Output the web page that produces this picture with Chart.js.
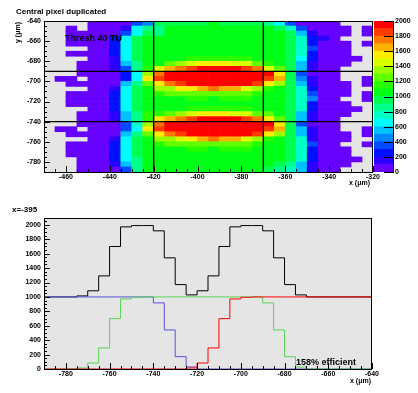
<!DOCTYPE html>
<html>
<head>
<meta charset="utf-8">
<script src="https://cdn.jsdelivr.net/npm/chart.js@4.4.0/dist/chart.umd.min.js"></script>
<style>
  body { margin: 0; background: #fff; }
  #page { position: relative; width: 418px; height: 393px; overflow: hidden;
          font-family: "Liberation Sans", Arial, sans-serif; font-weight: bold; color: #000; }
  #page canvas { position: absolute; }
  .lbl { position: absolute; white-space: nowrap; line-height: 1; }
</style>
</head>
<body>
<div id="page">
  <canvas id="mapChart" width="418" height="200" style="left:0;top:0"></canvas>
  <canvas id="paletteChart" width="58" height="200" style="left:360px;top:0"></canvas>
  <canvas id="sliceChart" width="418" height="193" style="left:0;top:200px"></canvas>

  <div class="lbl" style="left:16px;top:8px;font-size:8px">Central pixel duplicated</div>
  <div class="lbl" style="left:65px;top:34px;font-size:9px">Thresh 40 TU</div>
  <div class="lbl" style="left:14px;top:43px;font-size:7px;transform:rotate(-90deg);transform-origin:0 0">y (μm)</div>
  <div class="lbl" style="left:349px;top:179px;font-size:7px">x (μm)</div>
  <div class="lbl" style="left:12px;top:206px;font-size:8px">x=-395</div>
  <div class="lbl" style="left:296px;top:358px;font-size:9px">158% efficient</div>
  <div class="lbl" style="left:350px;top:377px;font-size:7px">x (μm)</div>
</div>

<script>
// ---- 2D map: 5 um bins, rows listed from top (y = -640) to bottom (y = -790)
var binWidth = 5;
var xBinLow = [-470,-465,-460,-455,-450,-445,-440,-435,-430,-425,-420,-415,-410,-405,-400,
               -395,-390,-385,-380,-375,-370,-365,-360,-355,-350,-345,-340,-335,-330,-325];
var yBinLow = [-645,-650,-655,-660,-665,-670,-675,-680,-685,-690,-695,-700,-705,-710,-715,
               -720,-725,-730,-735,-740,-745,-750,-755,-760,-765,-770,-775,-780,-785,-790];
var counts = [
  [0,0,0,0,50,50,50,50,350,450,950,950,950,950,950,1050,950,950,950,950,850,650,350,50,50,50,50,0,0,0],
  [0,0,50,0,50,50,50,150,650,850,850,1050,1050,1050,1050,1050,1050,1050,1050,1050,1050,950,750,350,50,50,50,50,0,50],
  [0,0,50,50,50,50,50,350,650,950,850,1050,1050,1050,1050,1050,1050,1050,1050,1050,1050,1050,950,550,150,50,50,50,0,50],
  [0,0,50,50,50,50,250,650,950,1050,1050,1050,1050,1050,1050,1050,1050,1050,1050,1050,1050,1050,950,750,250,150,50,0,0,0],
  [0,0,50,50,50,50,250,650,950,1050,1050,1050,1050,1050,1050,1050,1050,1050,1050,1050,1050,1050,950,750,250,50,50,50,0,50],
  [0,0,0,0,50,50,250,650,950,1050,1050,1050,1050,1050,1050,1050,1050,1050,1050,1050,1050,1050,950,750,350,50,50,50,0,0],
  [0,0,50,50,50,50,250,650,950,1050,1050,1050,1050,1050,1050,1050,1050,1050,1050,1050,1050,1050,950,750,250,50,50,50,0,0],
  [0,0,0,0,50,50,150,650,950,1050,1050,1050,1050,1150,1150,1150,1150,1150,1150,1050,1050,1050,950,650,250,50,50,50,50,0],
  [0,0,0,50,50,50,150,550,850,1050,1050,1250,1350,1450,1550,1550,1550,1450,1450,1250,1150,1050,950,550,150,50,50,50,0,0],
  [0,0,0,50,50,50,150,350,850,1150,1450,1650,1750,1850,1950,1950,1950,1950,1850,1750,1450,1250,950,550,150,50,50,0,0,0],
  [0,0,0,50,50,50,50,250,650,1350,1750,1950,1950,1950,1950,1950,1950,1950,1950,1950,1950,1550,950,350,50,50,50,0,0,0],
  [0,50,50,0,50,50,50,250,650,1550,1850,1950,1950,1950,1950,1950,1950,1950,1950,1950,1850,1650,950,450,150,50,50,0,0,50],
  [0,0,50,50,50,50,50,550,850,1250,1550,1750,1850,1950,1950,1950,1950,1950,1950,1850,1550,1350,950,550,150,50,50,50,0,50],
  [0,0,0,0,50,50,150,650,950,1050,1350,1350,1550,1550,1650,1750,1650,1650,1450,1350,1150,1050,950,750,250,50,50,50,0,0],
  [0,0,50,50,50,50,250,650,950,1050,1150,1250,1250,1250,1250,1250,1250,1250,1250,1150,1050,1050,950,750,350,50,50,50,0,50],
  [0,0,50,50,50,50,250,650,950,1050,1050,1050,1050,1150,1150,1050,1150,1150,1150,1050,1050,1050,950,750,450,50,50,0,0,50],
  [0,0,50,50,50,50,250,650,950,1050,1050,1050,1050,1050,1050,1050,1050,1050,1050,1050,1050,1050,950,750,250,50,50,50,0,0],
  [0,0,0,0,50,50,250,650,950,1050,1050,1050,1050,1150,1150,1150,1150,1150,1150,1050,1050,1050,950,750,250,50,50,50,50,0],
  [0,0,0,50,50,50,150,550,850,1150,1150,1250,1350,1450,1550,1550,1550,1450,1450,1250,1250,1050,950,550,150,50,50,50,0,0],
  [0,0,0,50,50,50,150,550,850,1150,1550,1650,1750,1850,1950,1950,1950,1950,1850,1750,1550,1250,950,550,150,50,50,0,0,0],
  [0,0,0,50,50,50,50,350,750,1350,1750,1950,1950,1950,1950,1950,1950,1950,1950,1950,1950,1550,950,350,50,50,50,0,0,0],
  [0,50,50,0,50,50,50,350,650,1550,1850,1950,1950,1950,1950,1950,1950,1950,1950,1950,1850,1650,950,550,150,50,50,0,0,50],
  [0,0,50,50,50,50,50,550,850,1250,1550,1750,1850,1950,1950,1950,1950,1950,1950,1850,1550,1350,950,550,150,50,50,50,0,50],
  [0,0,0,0,50,50,150,650,950,1050,1350,1350,1450,1550,1650,1750,1650,1650,1450,1350,1150,1050,950,750,150,50,50,50,0,0],
  [0,0,50,50,50,50,250,650,950,1050,1150,1250,1250,1250,1250,1250,1250,1250,1250,1150,1050,1050,950,750,350,50,50,0,0,50],
  [0,0,50,50,50,50,250,650,950,1050,1050,1050,1050,1150,1150,1050,1150,1150,1150,1050,1050,1050,950,750,250,50,50,50,0,0],
  [0,0,50,50,50,50,250,650,950,1050,1050,1050,1050,1050,1050,1050,1050,1050,1050,1050,1050,1050,950,750,250,50,50,50,0,0],
  [0,0,0,50,50,50,250,650,850,1050,1050,1050,1050,1050,1050,1050,1050,1050,1050,1050,1050,1050,950,750,250,50,50,50,50,0],
  [0,0,0,50,50,50,150,550,850,1050,1050,1050,1050,1050,1050,1050,1050,1050,1050,1050,1050,950,850,550,150,50,50,50,0,0],
  [0,0,0,50,50,50,50,350,850,1050,1050,1050,1050,1050,1050,1050,1050,1050,1050,1050,950,850,750,550,150,50,50,0,0,0]
];
var pixelEdgesX = [-420, -370];
var pixelEdgesY = [-740, -690];
var zLevels = [0,100,200,300,400,500,600,700,800,900,1000,1100,1200,1300,1400,1500,1600,1700,1800,1900,2000];
var mapTicksX = [-460,-440,-420,-400,-380,-360,-340,-320];
var mapTicksY = [-780,-760,-740,-720,-700,-680,-660,-640];
var zTicks = [0,200,400,600,800,1000,1200,1400,1600,1800,2000];

// ---- slice at x = -395
var sliceBinLow = [-790,-785,-780,-775,-770,-765,-760,-755,-750,-745,-740,-735,-730,-725,-720,
                   -715,-710,-705,-700,-695,-690,-685,-680,-675,-670,-665,-660,-655,-650,-645];
var sumCounts  = [1000,1000,1000,1014,1085,1292,1700,1972,1990,1990,1917,1542,1171,1028,1085,
                  1292,1700,1972,1990,1990,1917,1542,1171,1028,1000,1000,1000,1000,1000,1000];
var lowPixel   = [1000,1000,1000,1000,1000,1000,1000,1000,1000,1000,917,542,171,28,0,
                  0,0,0,0,0,0,0,0,0,0,0,0,0,0,0];
var midPixel   = [0,0,0,14,83,292,699,972,995,1000,1000,1000,1000,1000,1000,
                  1000,1000,1000,1000,1000,917,542,171,28,0,0,0,0,0,0];
var highPixel  = [0,0,0,0,0,0,0,0,0,0,0,0,0,14,83,
                  292,699,972,995,1000,1000,1000,1000,1000,1000,1000,1000,1000,1000,1000];
var sliceTicksX = [-780,-760,-740,-720,-700,-680,-660,-640];
var sliceTicksY = [0,200,400,600,800,1000,1200,1400,1600,1800,2000];

Chart.defaults.font.family = "'Liberation Sans', Arial, sans-serif";
Chart.defaults.font.size = 7;
Chart.defaults.font.weight = 'bold';
Chart.defaults.color = '#000';
Chart.defaults.animation = false;
Chart.defaults.plugins.legend.display = false;
Chart.defaults.plugins.tooltip.enabled = false;

function levelColor(k) {
  var hue = 264 - k * 264 / 19;
  return 'hsl(' + hue.toFixed(1) + ',100%,50%)';
}
function valueColor(v) {
  var k = 0;
  while (k < zLevels.length - 2 && v >= zLevels[k + 1]) k++;
  return levelColor(k);
}
function steps(from, to, step) {
  var out = [];
  for (var v = from; v <= to + 1e-9; v += step) out.push(v);
  return out;
}
function setTicks(list) {
  return function (scale) { scale.ticks = list.map(function (v) { return { value: v }; }); };
}

// gray frame fill, black box, inward tick marks (ROOT look)
var rootFrame = {
  id: 'rootFrame',
  beforeDraw: function (chart, args, o) {
    var a = chart.chartArea, c = chart.ctx;
    if (!o.fill) return;
    c.save();
    c.fillStyle = o.fill;
    c.fillRect(a.left, a.top, a.right - a.left, a.bottom - a.top);
    c.restore();
  },
  afterDraw: function (chart, args, o) {
    var a = chart.chartArea, c = chart.ctx;
    var xs = chart.scales.x, ys = chart.scales.y;
    c.save();
    c.strokeStyle = '#000';
    c.lineWidth = 1;
    if (o.box) c.strokeRect(a.left + 0.5, a.top + 0.5, a.right - a.left - 1, a.bottom - a.top);
    c.beginPath();
    (o.xMinor || []).forEach(function (v) {
      var p = Math.round(xs.getPixelForValue(v)) + 0.5;
      c.moveTo(p, a.bottom); c.lineTo(p, a.bottom - 3);
    });
    (o.xMajor || []).forEach(function (v) {
      var p = Math.round(xs.getPixelForValue(v)) + 0.5;
      c.moveTo(p, a.bottom); c.lineTo(p, a.bottom - 6);
    });
    (o.yMinor || []).forEach(function (v) {
      var p = Math.round(ys.getPixelForValue(v)) + 0.5;
      c.moveTo(a.left, p); c.lineTo(a.left + 3, p);
    });
    (o.yMajor || []).forEach(function (v) {
      var p = Math.round(ys.getPixelForValue(v)) + 0.5;
      c.moveTo(a.left, p); c.lineTo(a.left + 6, p);
    });
    (o.zMajor || []).forEach(function (v) {
      var p = Math.round(ys.getPixelForValue(v)) + 0.5;
      c.moveTo(a.right, p); c.lineTo(a.right - 10, p);
    });
    if (o.zMajor) { c.moveTo(a.right - 0.5, a.top); c.lineTo(a.right - 0.5, a.bottom + 1); }
    c.stroke();
    c.restore();
  }
};

// ---------- top: the map
var cells = [];
counts.forEach(function (row, r) {
  row.forEach(function (v, c) {
    if (v > 0) cells.push({ x: [xBinLow[c], xBinLow[c] + binWidth], y: yBinLow[r] + binWidth / 2, v: v });
  });
});

var edgeLines = [];
pixelEdgesX.forEach(function (x) {
  edgeLines.push({ type: 'line', data: [{ x: x, y: -790 }, { x: x, y: -640 }],
    borderColor: '#000', borderWidth: 1.4, pointRadius: 0, order: 0 });
});
pixelEdgesY.forEach(function (y) {
  edgeLines.push({ type: 'line', data: [{ x: -470, y: y }, { x: -320, y: y }],
    borderColor: '#000', borderWidth: 1.4, pointRadius: 0, order: 0 });
});

new Chart(document.getElementById('mapChart'), {
  type: 'bar',
  data: {
    datasets: [{
      type: 'bar',
      indexAxis: 'y',
      data: cells,
      order: 1,
      barPercentage: 1,
      categoryPercentage: 1,
      borderWidth: 0,
      backgroundColor: function (ctx) { return ctx.raw ? valueColor(ctx.raw.v) : 'transparent'; }
    }].concat(edgeLines)
  },
  options: {
    responsive: false,
    layout: { padding: { top: 21, right: 45, left: 0, bottom: 0 } },
    scales: {
      x: {
        type: 'linear', min: -470, max: -320, offset: false,
        grid: { display: false, drawTicks: false }, border: { display: false },
        afterBuildTicks: setTicks(mapTicksX),
        afterFit: function (s) { s.height = 28; },
        ticks: { padding: 1, maxRotation: 0, autoSkip: false, callback: function (v) { return String(v); } }
      },
      y: {
        type: 'linear', min: -790, max: -640, offset: false,
        grid: { display: false, drawTicks: false }, border: { display: false },
        afterBuildTicks: setTicks(mapTicksY),
        afterFit: function (s) { s.width = 44; },
        ticks: { padding: 3, autoSkip: false, callback: function (v) { return String(v); } }
      }
    },
    plugins: {
      rootFrame: {
        fill: '#e5e5e5', box: true,
        xMajor: mapTicksX, xMinor: steps(-470, -320, 5),
        yMajor: mapTicksY, yMinor: steps(-790, -640, 5)
      }
    }
  },
  plugins: [rootFrame]
});

// ---------- palette axis
new Chart(document.getElementById('paletteChart'), {
  type: 'bar',
  data: {
    labels: [''],
    datasets: zLevels.slice(0, -1).map(function (lo, k) {
      return { data: [[lo, zLevels[k + 1]]], backgroundColor: levelColor(k), grouped: false,
               barPercentage: 1, categoryPercentage: 1, borderWidth: 0 };
    })
  },
  options: {
    responsive: false,
    layout: { padding: { top: 21, right: 0, left: 14, bottom: 28 } },
    scales: {
      x: { display: false },
      y: {
        type: 'linear', position: 'right', min: 0, max: 2000,
        grid: { display: false, drawTicks: false }, border: { display: false },
        afterBuildTicks: setTicks(zTicks),
        afterFit: function (s) { s.width = 24; },
        ticks: { padding: 1, autoSkip: false, callback: function (v) { return String(v); } }
      }
    },
    plugins: { rootFrame: { zMajor: zTicks } }
  },
  plugins: [rootFrame]
});

// ---------- bottom: slice at x = -395
function histPoints(values) {
  var pts = values.map(function (v, i) { return { x: sliceBinLow[i], y: v }; });
  pts.push({ x: sliceBinLow[sliceBinLow.length - 1] + binWidth, y: values[values.length - 1] });
  return pts;
}
function histSet(values, color, order) {
  return { data: histPoints(values), borderColor: color, borderWidth: 1, stepped: true,
           pointRadius: 0, fill: false, order: order, clip: false };
}

new Chart(document.getElementById('sliceChart'), {
  type: 'line',
  data: {
    datasets: [
      histSet(highPixel, '#ff0000', 0),
      histSet(midPixel, '#59d454', 1),
      histSet(lowPixel, '#5954d9', 2),
      histSet(sumCounts, '#000000', 3)
    ]
  },
  options: {
    responsive: false,
    layout: { padding: { top: 18, right: 46, left: 0, bottom: 0 } },
    scales: {
      x: {
        type: 'linear', min: -790, max: -640,
        grid: { display: false, drawTicks: false }, border: { display: false },
        afterBuildTicks: setTicks(sliceTicksX),
        afterFit: function (s) { s.height = 24; },
        ticks: { padding: 1, maxRotation: 0, autoSkip: false, callback: function (v) { return String(v); } }
      },
      y: {
        type: 'linear', min: 0, max: 2095,
        grid: { display: false, drawTicks: false }, border: { display: false },
        afterBuildTicks: setTicks(sliceTicksY),
        afterFit: function (s) { s.width = 44; },
        ticks: { padding: 3, autoSkip: false, callback: function (v) { return String(v); } }
      }
    },
    plugins: {
      rootFrame: {
        fill: '#e5e5e5', box: true,
        xMajor: sliceTicksX, xMinor: steps(-790, -640, 5),
        yMajor: sliceTicksY, yMinor: steps(0, 2050, 50)
      }
    }
  },
  plugins: [rootFrame]
});
</script>
</body>
</html>
